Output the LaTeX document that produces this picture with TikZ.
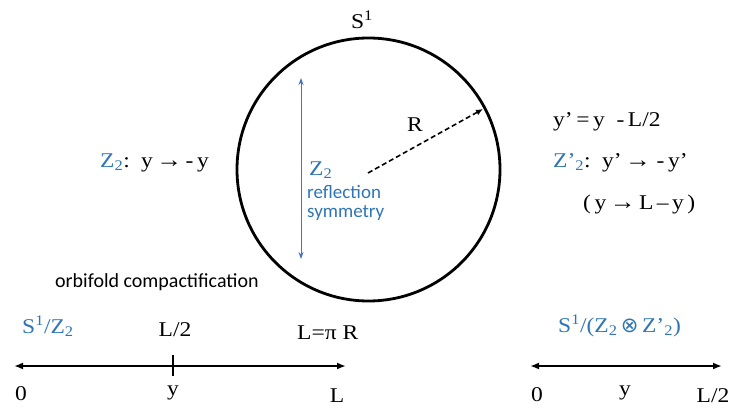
\documentclass[tikz,border=0pt]{standalone}
\usepackage{fontspec}
\setmainfont[FakeStretch=1.12]{Liberation Serif}
\newfontfamily\calib{Carlito}
\newfontfamily\djs{DejaVu Sans}
\usetikzlibrary{arrows.meta}
\definecolor{zblue}{HTML}{2E75B6}
\definecolor{ablue}{HTML}{4472C4}
\newcommand{\subtw}{\textsubscript{2}}
\newcommand{\supon}{\textsuperscript{1}}
\newcommand{\myarr}{{\fontsize{23}{22}\selectfont →}}
\tikzset{
  lbl/.style={font=\fontsize{21}{22}\selectfont, inner sep=0pt},
  blbl/.style={lbl, text=zblue},
  slbl/.style={font=\calib\fontsize{20}{22}\selectfont, inner sep=0pt},
  bslbl/.style={font=\calib\fontsize{19}{21}\selectfont, inner sep=0pt, text=zblue},
  axis/.style={line width=2.3pt, {Latex[length=9pt,width=7pt]}-{Latex[length=9pt,width=7pt]}}
}
\begin{document}
\begin{tikzpicture}[x=1pt,y=-1pt]
\useasboundingbox (0,0) rectangle (731,409);
% circle
\node[draw, line width=2.8pt, circle, minimum size=263pt, inner sep=0pt] (c) at (368.5,169.5) {};
\node[lbl] (s1) at (362,20) {S\supon};
% radius
\coordinate (ctr) at (368,173);
\coordinate (rim) at (483,109);
\draw[line width=1.6pt, dash pattern=on 5pt off 3pt, -{Latex[length=7pt,width=6pt]}] (ctr) -- (rim);
\node[lbl] (R) at (415,125) {R};
% blue reflection arrow
\coordinate (btop) at (301,78);
\coordinate (bbot) at (301,259);
\draw[ablue, line width=1pt, {Stealth[length=7pt,width=5pt]}-{Stealth[length=7pt,width=5pt]}] (btop) -- (bbot);
\node[blbl, anchor=west] (z2c) at (309,170) {Z\subtw};
\node[bslbl, anchor=west] (refl) at (307,192) {reflection};
\node[bslbl, anchor=west] (sym) at (307,213) {symmetry};
% left map
\node[lbl, anchor=west] (lmap) at (100,163) {\textcolor{zblue}{Z\subtw}:\, y\,\myarr\,-\,y};
% right maps
\node[lbl, anchor=west] (r1) at (553,122) {y’\,=\,y \ -\,L/2};
\node[lbl, anchor=west] (r2) at (553,163) {\textcolor{zblue}{Z’\subtw}:\, y’\,\myarr \ -\,y’};
\node[lbl, anchor=west] (r3) at (583,204) {(\,y\,\myarr\,L\,–\,y\,)};
% orbifold
\node[slbl, anchor=west] (orb) at (55,282) {orbifold compactification};
% left axis
\node[blbl, anchor=west] (s1z2) at (22,326) {S\supon/Z\subtw};
\node[lbl] (half) at (175,330) {L/2};
\node[lbl, anchor=west] (LpiR) at (297,333) {L=π R};
\coordinate (la) at (14,366);
\coordinate (lb) at (346,366);
\draw[axis] (la) -- (lb);
\coordinate (tk1) at (173,355);
\coordinate (tk2) at (173,376);
\draw[line width=1.2pt] (tk1) -- (tk2);
\node[lbl] (l0) at (21,394) {0};
\node[lbl] (ly) at (173,393) {y};
\node[lbl] (lL) at (337,396) {L};
% right axis
\node[blbl, anchor=west] (s1z2z2) at (558,326) {S\supon/(Z\subtw\,{\djs\fontsize{21}{20}\selectfont ⊗}\,Z’\subtw)};
\coordinate (ra) at (530,366);
\coordinate (rb) at (722,366);
\draw[axis] (ra) -- (rb);
\node[lbl] (r0) at (537,395) {0};
\node[lbl] (ry) at (625,393) {y};
\node[lbl] (rL) at (713,396) {L/2};
\end{tikzpicture}
\end{document}
